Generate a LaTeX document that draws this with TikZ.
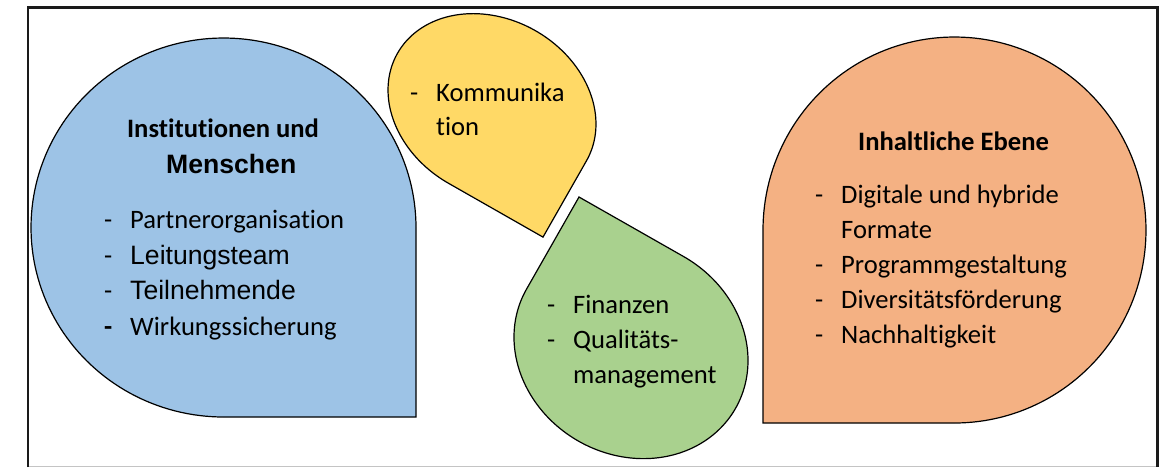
\documentclass[tikz,border=0pt]{standalone}
\usepackage{fontspec}
\setmainfont{Carlito}[Ligatures={NoCommon,NoContextual}]
\newfontfamily\arialfont{Liberation Sans}
\definecolor{blueF}{HTML}{9DC3E6}
\definecolor{yellowF}{HTML}{FFD966}
\definecolor{greenF}{HTML}{A9D18E}
\definecolor{orangeF}{HTML}{F4B183}
\definecolor{frameC}{HTML}{1A1A1A}
\definecolor{frameB}{HTML}{C4C4C4}
\newcommand\itemdash{\makebox[26pt][l]{-}}
\newcommand\itemdashbold{\makebox[26pt][l]{\bfseries -}}
\begin{document}
\begin{tikzpicture}[x=1pt,y=-1pt,
  shapeline/.style={draw=black, line width=1.2pt},
  txt/.style={inner sep=0pt, anchor=base west, font=\fontsize{26.6}{31}\selectfont},
  ctxt/.style={inner sep=0pt, anchor=base, font=\fontsize{26.6}{31}\selectfont\bfseries},
  frameline/.style={draw=frameC, line width=2.4pt}]
\useasboundingbox (0,0) rectangle (1164,467);
\fill[white] (0,0) rectangle (1164,467);
% frame
\draw[frameB, line width=1pt] (28,466) -- (1157.5,466);
\draw[frameline] (28,467) -- (28,7.3) -- (1157.5,7.3) -- (1157.5,467);
% blue teardrop
\draw[shapeline, fill=blueF] plot[domain=0:270, samples=150] ({223.5+192.5*cos(\x)},{227.5-189.5*sin(\x)}) -- (416,417) -- cycle;
% orange teardrop
\draw[shapeline, fill=orangeF] plot[domain=-90:180, samples=150] ({954.5+191.5*cos(\x)},{230-193*sin(\x)}) -- (763,423) -- cycle;
% yellow teardrop
\draw[shapeline, fill=yellowF] plot[domain=90:360, samples=150] ({492-43.46*cos(\x)+94.46*sin(\x)},{107+76.30*cos(\x)+53.81*sin(\x)}) -- (543,237.1) -- cycle;
% green teardrop
\draw[shapeline, fill=greenF] plot[domain=90:360, samples=150] ({631+52.57*cos(\x)-104.54*sin(\x)},{348.8-92.29*cos(\x)-59.55*sin(\x)}) -- (579,197) -- cycle;
% blue texts
\node[ctxt] (b1) at (223,137) {Institutionen und};
\node[txt, font=\fontsize{26.6}{31}\selectfont\bfseries\arialfont] (b2) at (166,173) {Menschen};
\node[txt] (b3) at (104,228) {\itemdash Partnerorganisation};
\node[txt] (b4) at (104,264) {\itemdash{\arialfont Leitungsteam}};
\node[txt] (b5) at (104,299) {\itemdash{\arialfont Teilnehmende}};
\node[txt] (b6) at (104,335) {\itemdashbold Wirkungssicherung};
% yellow texts
\node[txt] (y1) at (410,101) {\itemdash Kommunika};
\node[txt] (y2) at (436,135) {tion};
% green texts
\node[txt] (g1) at (547,313) {\itemdash Finanzen};
\node[txt] (g2) at (547,348) {\itemdash Qualitäts-};
\node[txt] (g3) at (573,383) {management};
% orange texts
\node[ctxt] (o1) at (953.5,150) {Inhaltliche Ebene};
\node[txt] (o2) at (815,203) {\itemdash Digitale und hybride};
\node[txt] (o3) at (841,238) {Formate};
\node[txt] (o4) at (815,273) {\itemdash Programmgestaltung};
\node[txt] (o5) at (815,308) {\itemdash Diversitätsförderung};
\node[txt] (o6) at (815,343) {\itemdash Nachhaltigkeit};
\end{tikzpicture}
\end{document}
